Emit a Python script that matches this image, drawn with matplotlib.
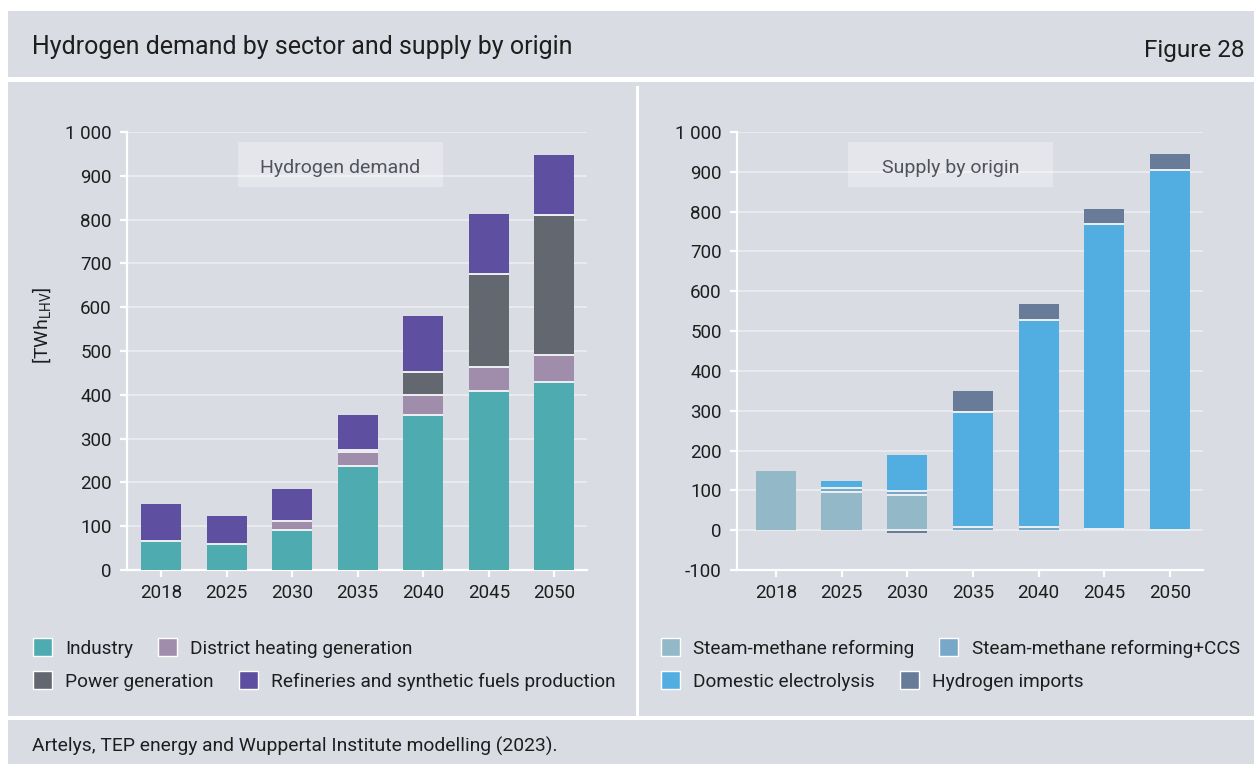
import numpy as np
import matplotlib.pyplot as plt
from matplotlib.patches import Rectangle, Patch
from matplotlib.ticker import FuncFormatter, MultipleLocator

plt.rcParams['font.family'] = ['Roboto', 'DejaVu Sans']

years = ["2018", "2025", "2030", "2035", "2040", "2045", "2050"]

# demand by sector, TWh (LHV)
industry = [67, 59, 92, 238, 354, 408, 430]
district_heating = [0, 0, 20, 32, 46, 55, 61]
power = [0, 0, 0, 4, 52, 212, 319]
refineries = [84, 64, 73, 81, 128, 138, 137]

# supply by origin, TWh (LHV)
smr = [149, 97, 89, 0, 0, 4, 1]
smr_ccs = [0, 10, 10, 8, 8, 0, 0]
electrolysis = [0, 17, 90, 289, 519, 765, 904]
imports = [0, 0, -7, 52, 42, 38, 40]

demand_labels = ["Industry", "District heating generation",
                 "Power generation", "Refineries and synthetic fuels production"]
demand_colors = ["#4eacb1", "#9f8dab", "#636770", "#5e4fa0"]
supply_labels = ["Steam-methane reforming", "Steam-methane reforming+CCS",
                 "Domestic electrolysis", "Hydrogen imports"]
supply_colors = ["#93b8c8", "#78a8c8", "#52ade0", "#687c9a"]

BG = "#d9dce3"
GRID = "#eaebee"
TXT = "#1e1e1e"
W = 0.61

fig = plt.figure(figsize=(12.54, 7.64), dpi=100, facecolor="white")
H = 764.0


def band(x0, y_top, x1, y_bot, color):
    fig.patches.append(Rectangle((x0 / 1254, 1 - y_bot / H), (x1 - x0) / 1254,
                                 (y_bot - y_top) / H, transform=fig.transFigure,
                                 facecolor=color, edgecolor="none", zorder=-5))


band(8, 11, 1254, 77, BG)
band(8, 82, 1254, 716, BG)
band(8, 720, 1254, 764, BG)
band(636, 86, 639, 716, "white")

fig.text(32 / 1254, 1 - 47 / H, "Hydrogen demand by sector and supply by origin",
         fontsize=18, color=TXT, va="center", ha="left")
fig.text(1244 / 1254, 1 - 50 / H, "Figure 28", fontsize=17.5, color=TXT,
         va="center", ha="right")
fig.text(32 / 1254, 1 - 746 / H,
         "Artelys, TEP energy and Wuppertal Institute modelling (2023).",
         fontsize=13.9, color=TXT, va="center", ha="left")


def stacked(ax, series, colors):
    x = np.arange(len(years))
    pos = np.zeros(len(years))
    neg = np.zeros(len(years))
    tops = []
    for vals, c in zip(series, colors):
        v = np.array(vals, dtype=float)
        bottom = np.where(v >= 0, pos, neg)
        ax.bar(x, v, width=W, bottom=bottom, color=c, linewidth=0, zorder=3)
        pos = pos + np.clip(v, 0, None)
        neg = neg + np.clip(v, None, 0)
        tops.append((v > 0, pos.copy()))
    # thin light separators between stacked segments
    for has, top in tops:
        for i in range(len(years)):
            if has[i] and pos[i] - top[i] > 0.5:
                ax.hlines(top[i], x[i] - W / 2, x[i] + W / 2, color="#eef0f3",
                          lw=1.4, zorder=4)
    for i in range(len(years)):
        if neg[i] < 0 and pos[i] > 0:
            ax.hlines(0, x[i] - W / 2, x[i] + W / 2, color="#eef0f3", lw=1.4, zorder=4)


def style(ax, ymin, ymax, xmin):
    ax.set_facecolor("none")
    ax.set_xlim(xmin, 6.5)
    ax.set_ylim(ymin, ymax)
    ax.yaxis.set_major_locator(MultipleLocator(100))
    ax.yaxis.set_major_formatter(FuncFormatter(lambda v, p: f"{int(v):,}".replace(",", " ")))
    ax.set_xticks(np.arange(len(years)))
    ax.set_xticklabels(years)
    for s in ["top", "right"]:
        ax.spines[s].set_visible(False)
    for s in ["left", "bottom"]:
        ax.spines[s].set_color("white")
        ax.spines[s].set_linewidth(1.6)
    ax.tick_params(axis="both", colors="white", labelcolor=TXT, labelsize=13.5,
                   length=5, width=1.6)
    ax.tick_params(axis="y", pad=6)
    ax.tick_params(axis="x", pad=5)
    ax.yaxis.grid(True, color=GRID, lw=1.4, zorder=0)
    ax.set_axisbelow(True)


def tag(ax, x0, w, text):
    ax.add_patch(Rectangle((x0, 0.874), w, 0.103, transform=ax.transAxes,
                           facecolor="white", alpha=0.3, edgecolor="none", zorder=2))
    ax.text(x0 + w / 2, 0.918, text, transform=ax.transAxes, ha="center",
            va="center", fontsize=14, color="#50545a", zorder=5)


ax1 = fig.add_axes([127 / 1254, 1 - 570 / H, 460 / 1254, 438 / H])
stacked(ax1, [industry, district_heating, power, refineries], demand_colors)
style(ax1, 0, 1000, -0.52)
tag(ax1, 0.241, 0.446, "Hydrogen demand")

ax2 = fig.add_axes([737 / 1254, 1 - 570 / H, 466 / 1254, 438 / H])
stacked(ax2, [smr, smr_ccs, electrolysis, imports], supply_colors)
style(ax2, -100, 1000, -0.59)
tag(ax2, 0.239, 0.44, "Supply by origin")

fig.text(42 / 1254, 1 - 325 / H, r"[TWh$_{\mathregular{LHV}}$]", rotation=90,
         fontsize=14, color=TXT, ha="center", va="center")


def legend_row(labels, colors, x, y):
    handles = [Patch(facecolor=c, edgecolor="white", linewidth=1.0) for c in colors]
    lg = fig.legend(handles, labels, ncol=len(labels), loc="center left",
                    bbox_to_anchor=(x / 1254, 1 - y / H), frameon=False,
                    fontsize=13.7, handlelength=1.0, handleheight=1.05,
                    handletextpad=0.7, columnspacing=1.3, borderpad=0,
                    borderaxespad=0)
    for t in lg.get_texts():
        t.set_color(TXT)


legend_row(demand_labels[:2], demand_colors[:2], 33, 648)
legend_row(demand_labels[2:], demand_colors[2:], 33, 681)
legend_row(supply_labels[:2], supply_colors[:2], 661, 648)
legend_row(supply_labels[2:], supply_colors[2:], 661, 681)

fig.savefig("out.png", dpi=100, facecolor="white")
